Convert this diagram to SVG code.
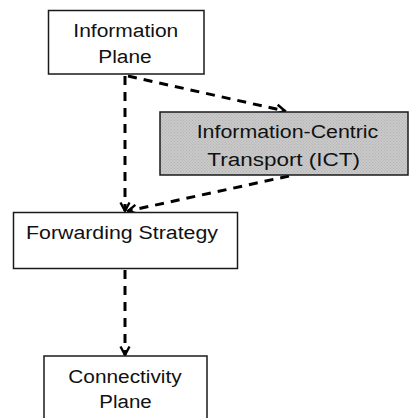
<svg xmlns="http://www.w3.org/2000/svg" width="409" height="418" viewBox="0 0 409 418">
<style>
.box{fill:#ffffff;stroke:#1a1a1a;stroke-width:1.5}
.ict{fill:url(#hatch);stroke:#1a1a1a;stroke-width:1.5}
.t{font-family:"Liberation Sans",Arial,sans-serif;font-size:18px;fill:#111111}
.c{fill:none;stroke:#000000;stroke-width:3;stroke-dasharray:9 7}
</style>
<defs>
<pattern id="hatch" width="3" height="3" patternUnits="userSpaceOnUse">
<rect width="3" height="3" fill="#c9c9c9"/>
<rect x="0" y="0" width="1" height="1" fill="#b4b4b4"/>
<rect x="1.5" y="1.5" width="1" height="1" fill="#b4b4b4"/>
</pattern>
<marker id="arr" viewBox="0 0 12 12" refX="10.5" refY="6" markerWidth="12" markerHeight="12" markerUnits="userSpaceOnUse" orient="auto">
<path d="M2,1.5 L10.5,6 L2,10.5" fill="none" stroke="#000000" stroke-width="2.4"/>
</marker>
</defs>
<g id="connectors">
<path class="c" d="M125,76 L125,211" marker-end="url(#arr)"/>
<path class="c" d="M128,76 L285,111" marker-end="url(#arr)"/>
<path class="c" d="M289,176 L128,211" marker-end="url(#arr)"/>
<path class="c" d="M125,270 L125,355" marker-end="url(#arr)"/>
</g>
<g id="information-plane">
<rect class="box" x="48.5" y="10.5" width="155.5" height="63.5"/>
<text class="t" x="73.3" y="36.7" textLength="105" lengthAdjust="spacingAndGlyphs">Information</text>
<text class="t" x="98.3" y="63.3" textLength="53.4" lengthAdjust="spacingAndGlyphs">Plane</text>
</g>
<g id="ict">
<rect class="ict" x="160" y="112" width="248" height="63"/>
<text class="t" x="196.7" y="138.3" textLength="181.6" lengthAdjust="spacingAndGlyphs">Information-Centric</text>
<text class="t" x="207.3" y="165.7" textLength="152.7" lengthAdjust="spacingAndGlyphs">Transport (ICT)</text>
</g>
<g id="forwarding-strategy">
<rect class="box" x="13.5" y="212.5" width="224" height="56"/>
<text class="t" x="26" y="239.3" textLength="192" lengthAdjust="spacingAndGlyphs">Forwarding Strategy</text>
</g>
<g id="connectivity-plane">
<rect class="box" x="44" y="356" width="163" height="70"/>
<text class="t" x="68.3" y="383.3" textLength="113.4" lengthAdjust="spacingAndGlyphs">Connectivity</text>
<text class="t" x="99.3" y="408.3" textLength="52.4" lengthAdjust="spacingAndGlyphs">Plane</text>
</g>
</svg>
